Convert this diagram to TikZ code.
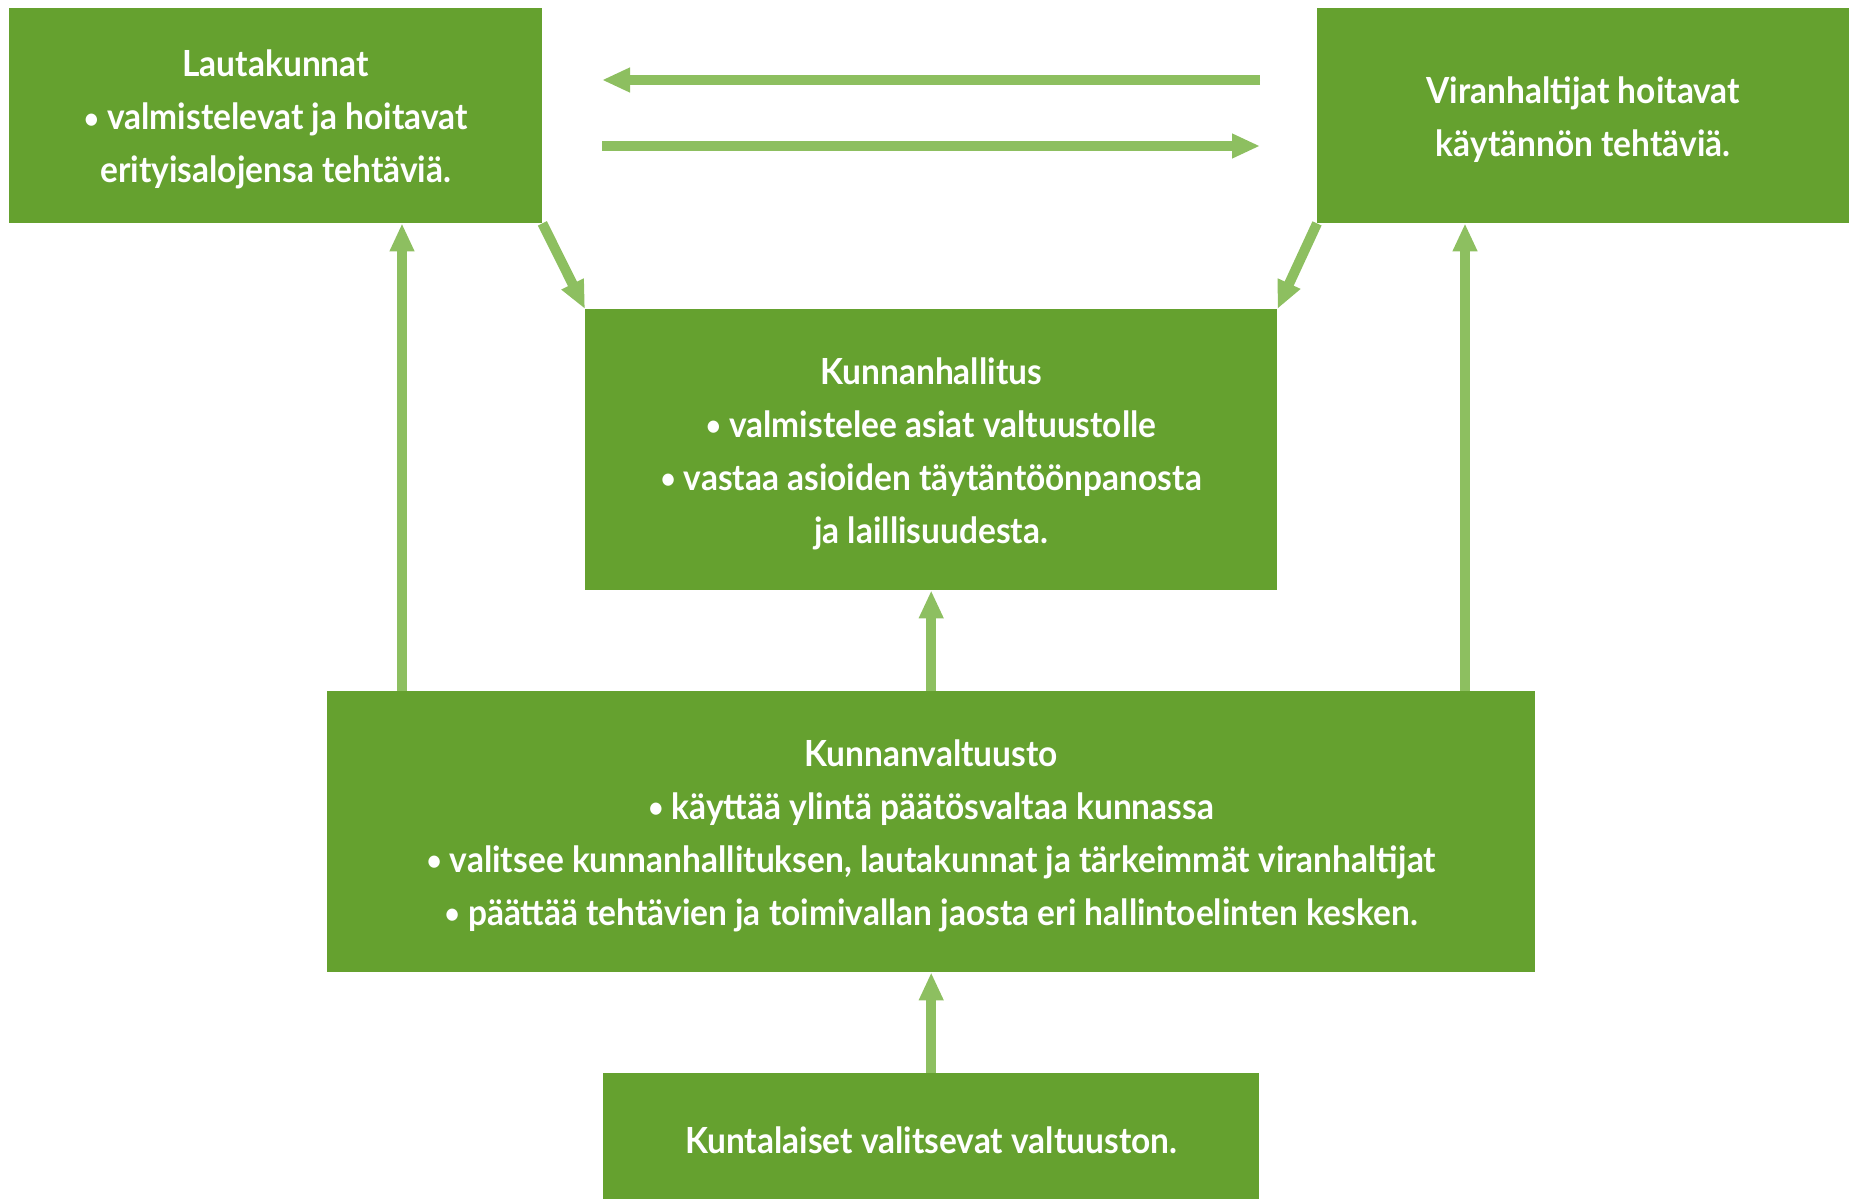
\documentclass[tikz,border=0pt]{standalone}
\usepackage{fontspec}
\setmainfont{Lato}[FakeStretch=0.93]
\usetikzlibrary{arrows.meta}
\definecolor{boxgreen}{HTML}{65A12F}
\definecolor{arrgreen}{HTML}{8DBF60}
\newcommand{\blt}{\raisebox{1.5pt}{\scalebox{0.78}{•}}}
\newcommand{\tstrut}{\rule{0pt}{35pt}}
\tikzset{
  box/.style={fill=boxgreen, draw=none, anchor=north west, inner sep=0pt,
    align=center, text=white, font=\fontsize{36}{53}\selectfont\bfseries},
  arr/.style={draw=arrgreen, line width=10pt,
    -{Triangle[length=28pt,width=23pt]}, fill=arrgreen}
}
\begin{document}
\begin{tikzpicture}[x=1pt,y=-1pt]
\useasboundingbox (0,0) rectangle (1849,1199);
\node[box, minimum width=533pt, minimum height=215pt] (lauta) at (9,8)
  {\tstrut Lautakunnat\\\blt{} valmistelevat ja hoitavat\\erityisalojensa tehtäviä.};
\node[box, minimum width=532pt, minimum height=215pt] (viran) at (1317,8)
  {\tstrut Viranhaltijat hoitavat\\käytännön tehtäviä.};
\node[box, minimum width=692pt, minimum height=281pt] (hall) at (585,309)
  {\tstrut Kunnanhallitus\\\blt{} valmistelee asiat valtuustolle\\\blt{} vastaa asioiden täytäntöönpanosta\\ja laillisuudesta.};
\node[box, minimum width=1208pt, minimum height=281pt] (valt) at (327,691)
  {\tstrut Kunnanvaltuusto\\\blt{} käyttää ylintä päätösvaltaa kunnassa\\\blt{} valitsee kunnanhallituksen, lautakunnat ja tärkeimmät viranhaltijat\\\blt{} päättää tehtävien ja toimivallan jaosta eri hallintoelinten kesken.};
\node[box, minimum width=656pt, minimum height=126pt] (kunta) at (603,1073)
  {\tstrut Kuntalaiset valitsevat valtuuston.};
% free ends of the horizontal arrows
\coordinate (hr) at (1260,80);
\coordinate (hl) at (602,80);
\coordinate (lr) at (602,146);
\coordinate (ll) at (1260,146);
\coordinate (xl) at (402,0);
\coordinate (xr) at (1465,0);
\draw[arr] (hr) -- (hl);
\draw[arr] (lr) -- (ll);
\draw[arr] (lauta.south east) -- (hall.north west);
\draw[arr] (viran.south west) -- (hall.north east);
\draw[arr] (valt.north -| xl) -- (lauta.south -| xl);
\draw[arr] (valt.north -| xr) -- (viran.south -| xr);
\draw[arr] (valt.north) -- (hall.south);
\draw[arr] (kunta.north) -- (valt.south);
\end{tikzpicture}
\end{document}
